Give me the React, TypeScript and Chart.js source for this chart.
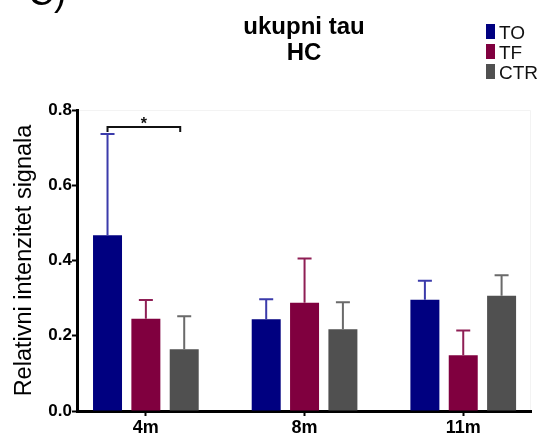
import React, { useEffect, useRef } from "react";
import { Chart, registerables } from "chart.js";

Chart.register(...registerables);

// ---- data ----
const categories = ["4m", "8m", "11m"];
const seriesNames = ["TO", "TF", "CTR"];
const toMeans = [0.467, 0.244, 0.296];
const toErrors = [0.269, 0.053, 0.05];
const tfMeans = [0.245, 0.288, 0.148];
const tfErrors = [0.05, 0.117, 0.066];
const ctrMeans = [0.164, 0.217, 0.306];
const ctrErrors = [0.088, 0.072, 0.055];
const yTicks = [0, 0.2, 0.4, 0.6, 0.8];
const titleLines = ["ukupni tau", "HC"];
const yAxisTitle = "Relativni intenzitet signala";
const panelLabel = "C)";
const sigLevel = 0.755;
const sigText = "*";

const barColors = ["#000080", "#80003f", "#505050"];
const errColors = ["#3b3bab", "#8f1f55", "#6a6a6a"];
const FONT = "'Liberation Sans', Arial, Helvetica, sans-serif";

const means = [toMeans, tfMeans, ctrMeans];
const errors = [toErrors, tfErrors, ctrErrors];

const extrasPlugin = {
  id: "extras",
  beforeDraw(chart: any) {
    const { ctx, chartArea } = chart;
    ctx.save();
    ctx.strokeStyle = "#f3f3f3";
    ctx.lineWidth = 1;
    ctx.beginPath();
    ctx.moveTo(chartArea.left, chartArea.top + 0.5);
    ctx.lineTo(chartArea.right - 0.5, chartArea.top + 0.5);
    ctx.lineTo(chartArea.right - 0.5, chartArea.bottom);
    ctx.stroke();
    ctx.restore();
  },
  afterDatasetsDraw(chart: any) {
    const { ctx } = chart;
    const yScale = chart.scales.y;
    ctx.save();
    // error bars
    means.forEach((_, di) => {
      const meta = chart.getDatasetMeta(di);
      meta.data.forEach((bar: any, i: number) => {
        const yTop = yScale.getPixelForValue(means[di][i] + errors[di][i]);
        const yBar = bar.y;
        ctx.strokeStyle = errColors[di];
        ctx.lineWidth = 2;
        ctx.beginPath();
        ctx.moveTo(bar.x, yBar);
        ctx.lineTo(bar.x, yTop);
        ctx.moveTo(bar.x - 7, yTop);
        ctx.lineTo(bar.x + 7, yTop);
        ctx.stroke();
      });
    });
    // significance bracket between TO and CTR at 4m
    const a = chart.getDatasetMeta(0).data[0];
    const b = chart.getDatasetMeta(2).data[0];
    const ys = yScale.getPixelForValue(sigLevel);
    ctx.strokeStyle = "#111";
    ctx.lineWidth = 2;
    ctx.beginPath();
    ctx.moveTo(a.x, ys + 5);
    ctx.lineTo(a.x, ys);
    ctx.lineTo(b.x - 4, ys);
    ctx.lineTo(b.x - 4, ys + 5);
    ctx.stroke();
    ctx.fillStyle = "#111";
    ctx.font = `bold 16px ${FONT}`;
    ctx.textAlign = "center";
    ctx.textBaseline = "alphabetic";
    ctx.fillText(sigText, (a.x + b.x - 4) / 2, ys + 2);
    ctx.restore();
  },
  afterDraw(chart: any) {
    const { ctx, chartArea } = chart;
    ctx.save();
    ctx.fillStyle = "#000";
    // panel label (cut off at top)
    ctx.font = `36px ${FONT}`;
    ctx.textAlign = "left";
    ctx.textBaseline = "alphabetic";
    ctx.fillText(panelLabel, 28, 5);
    // title
    const cx = (chartArea.left + chartArea.right) / 2;
    ctx.font = `bold 24px ${FONT}`;
    ctx.textAlign = "center";
    ctx.fillText(titleLines[0], cx, 34);
    ctx.fillText(titleLines[1], cx, 60);
    // legend
    ctx.font = `19px ${FONT}`;
    ctx.textAlign = "left";
    seriesNames.forEach((name, i) => {
      const top = 24 + i * 20;
      ctx.fillStyle = barColors[i];
      ctx.fillRect(486, top, 9, 15);
      ctx.fillStyle = "#111";
      ctx.fillText(name, 499, top + 15);
    });
    ctx.restore();
  },
};

export default function App() {
  const canvasRef = useRef<HTMLCanvasElement | null>(null);

  useEffect(() => {
    if (!canvasRef.current) return;
    const chart = new Chart(canvasRef.current, {
      type: "bar",
      data: {
        datasets: seriesNames.map((name, di) => ({
          label: name,
          data: means[di].map((y, i) => ({ x: i, y })),
          backgroundColor: barColors[di],
          borderWidth: 0,
          barPercentage: 0.756,
          categoryPercentage: 0.725,
        })),
      },
      options: {
        animation: false,
        responsive: false,
        maintainAspectRatio: false,
        layout: { padding: { top: 110, right: 17, bottom: 0, left: 0 } },
        plugins: {
          legend: { display: false },
          tooltip: { enabled: false },
          title: { display: false },
        },
        scales: {
          x: {
            type: "linear",
            min: -0.434,
            max: 2.427,
            offset: false,
            z: 1,
            afterBuildTicks: (s: any) => {
              s.ticks = categories.map((_, i) => ({ value: i }));
            },
            afterFit: (s: any) => {
              s.height = 23;
            },
            grid: {
              display: true,
              offset: false,
              drawOnChartArea: false,
              drawTicks: true,
              tickLength: 5,
              tickWidth: 2,
              tickColor: "#000",
              color: "rgba(0,0,0,0)",
            },
            border: { display: true, color: "#000", width: 3 },
            ticks: {
              autoSkip: false,
              maxRotation: 0,
              padding: 1.5,
              color: "#000",
              font: { family: FONT, size: 18, weight: "bold" },
              callback: (v: any) => categories[Number(v)] ?? "",
            },
          },
          y: {
            type: "linear",
            min: 0,
            max: 0.8,
            z: 1,
            afterBuildTicks: (s: any) => {
              s.ticks = yTicks.map((v) => ({ value: v }));
            },
            afterFit: (s: any) => {
              s.width = 77;
            },
            grid: {
              display: true,
              drawOnChartArea: false,
              drawTicks: true,
              tickLength: 5,
              tickWidth: 2,
              tickColor: "#000",
              color: "rgba(0,0,0,0)",
            },
            border: { display: true, color: "#000", width: 3 },
            ticks: {
              padding: 0,
              color: "#000",
              font: { family: FONT, size: 17, weight: "bold" },
              callback: (v: any) => Number(v).toFixed(1),
            },
            title: {
              display: true,
              text: yAxisTitle,
              color: "#000",
              font: { family: FONT, size: 23.5, weight: "normal" },
              padding: { top: 10, bottom: 0 },
            },
          },
        },
      },
      plugins: [extrasPlugin],
    } as any);
    return () => chart.destroy();
  }, []);

  return (
    <div style={{ position: "fixed", left: 0, top: 0, width: 548, height: 434, background: "#fff" }}>
      <canvas ref={canvasRef} width={548} height={434} style={{ width: 548, height: 434, display: "block" }} />
    </div>
  );
}
